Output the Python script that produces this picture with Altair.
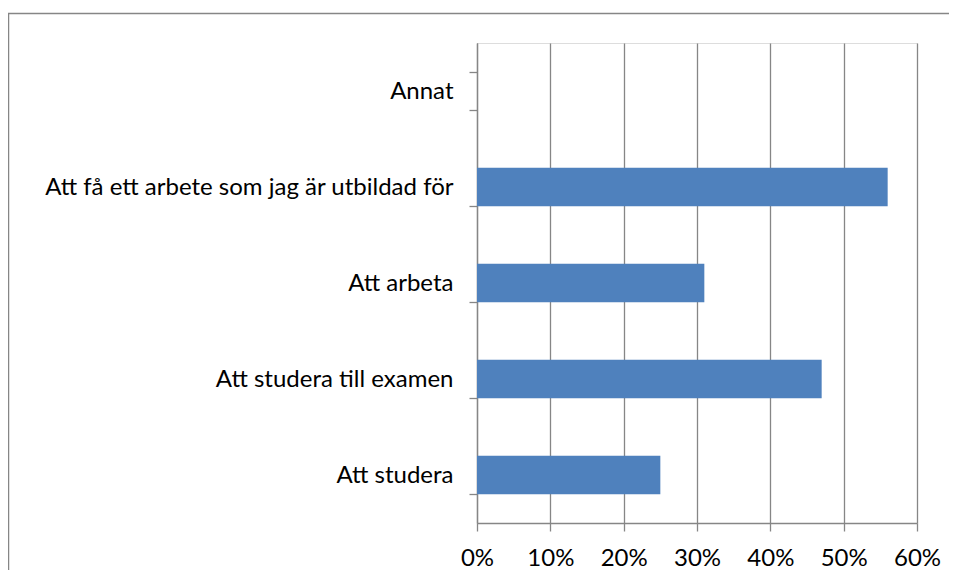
import altair as alt
import pandas as pd

categories = [
    "Annat",
    "Att få ett arbete som jag är utbildad för",
    "Att arbeta",
    "Att studera till examen",
    "Att studera\u00a0",
]
shares = [0.0, 0.56, 0.31, 0.47, 0.25]
tick_values = [0, 0.1, 0.2, 0.3, 0.4, 0.5, 0.6]

df = pd.DataFrame({"kategori": categories, "andel": shares})

GRAY = "#868686"
FONT = "Lato"
FSIZE = 24

bars = alt.Chart(df).mark_bar(color="#4F81BD").encode(
    x=alt.X(
        "andel:Q",
        scale=alt.Scale(domain=[0, 0.6], nice=False, zero=True),
        axis=alt.Axis(
            values=tick_values,
            format=".0%",
            title=None,
            grid=True,
            gridColor=GRAY,
            gridWidth=1.3,
            domainColor=GRAY,
            domainWidth=1.3,
            tickColor=GRAY,
            tickWidth=1.3,
            tickSize=8,
            labelPadding=15,
            labelFlush=False,
            labelOverlap=False,
            labelFont=FONT,
            labelFontSize=FSIZE,
            labelColor="#000000",
        ),
    ),
    y=alt.Y(
        "kategori:N",
        sort=categories,
        scale=alt.Scale(paddingInner=0.6, paddingOuter=0.3),
        axis=alt.Axis(
            title=None,
            grid=False,
            tickBand="extent",
            domainColor=GRAY,
            domainWidth=1.3,
            tickColor=GRAY,
            tickWidth=1.3,
            tickSize=8,
            labelPadding=16,
            labelFont=FONT,
            labelFontSize=FSIZE,
            labelColor="#000000",
            labelLimit=600,
        ),
    ),
)

frame = alt.Chart(alt.Data(values=[{}])).mark_rect(
    fill=None, stroke=GRAY, strokeWidth=1.5
).encode(
    x=alt.value(-468.5),
    y=alt.value(-29.5),
    x2=alt.value(1200),
    y2=alt.value(1200),
)

chart = alt.layer(frame, bars).properties(
    width=440,
    height=480,
    autosize=alt.AutoSizeParams(type="none"),
    padding={"left": 469, "top": 35, "right": 32, "bottom": 47},
).configure_view(stroke=None).configure(background="white")

chart.save("out.html", embed_options={"renderer": "svg", "actions": False})
